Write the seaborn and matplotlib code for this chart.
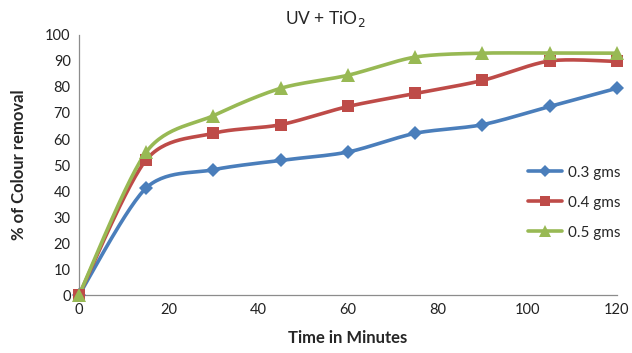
import matplotlib
import matplotlib.pyplot as plt
import numpy as np
import pandas as pd
import seaborn as sns
from matplotlib.lines import Line2D

matplotlib.use("Agg")

minutes = [0, 15, 30, 45, 60, 75, 90, 105, 120]
dose_03 = [0, 41.2, 48.2, 51.8, 55.0, 62.2, 65.5, 72.5, 79.5]
dose_04 = [0, 52.0, 62.2, 65.5, 72.5, 77.5, 82.5, 90.0, 89.8]
dose_05 = [0, 55.0, 69.0, 79.5, 84.5, 91.5, 93.0, 93.0, 93.0]
series_names = ["0.3 gms", "0.4 gms", "0.5 gms"]

colors = ["#4A7EBB", "#BE4B48", "#98B954"]
markers = ["D", "s", "^"]
marker_sizes = [7, 9, 10]


def smooth_curve(x, y, steps=30):
    # Excel-style smoothed line (Catmull-Rom through the data points)
    x = np.asarray(x, dtype=float)
    y = np.asarray(y, dtype=float)
    px = np.concatenate([[x[0]], x, [x[-1]]])
    py = np.concatenate([[y[0]], y, [y[-1]]])
    xs, ys = [], []
    for i in range(1, len(px) - 2):
        t = np.linspace(0, 1, steps, endpoint=False)
        for arr, out in ((px, xs), (py, ys)):
            p0, p1, p2, p3 = arr[i - 1], arr[i], arr[i + 1], arr[i + 2]
            m1 = (p2 - p0) / 2 * 0.85
            m2 = (p3 - p1) / 2 * 0.85
            h00 = 2 * t**3 - 3 * t**2 + 1
            h10 = t**3 - 2 * t**2 + t
            h01 = -2 * t**3 + 3 * t**2
            h11 = t**3 - t**2
            out.extend(h00 * p1 + h10 * m1 + h01 * p2 + h11 * m2)
    xs.append(x[-1])
    ys.append(y[-1])
    return np.array(xs), np.array(ys)


sns.set_theme(style="white")
plt.rcParams["font.family"] = ["Lato", "DejaVu Sans"]

points = pd.DataFrame(
    {
        "minutes": minutes * 3,
        "removal": dose_03 + dose_04 + dose_05,
        "dose": [n for n in series_names for _ in minutes],
    }
)
curves = []
for name, group in points.groupby("dose", sort=False):
    sx, sy = smooth_curve(group["minutes"], group["removal"])
    curves.append(pd.DataFrame({"minutes": sx, "removal": sy, "dose": name}))
curves = pd.concat(curves, ignore_index=True)

fig = plt.figure(figsize=(6.32, 3.53), dpi=100)
ax = fig.add_axes([0.125, 0.164, 0.851, 0.737])

palette = dict(zip(series_names, colors))
sns.lineplot(data=curves, x="minutes", y="removal", hue="dose", palette=palette,
             linewidth=2.6, sort=False, estimator=None, legend=False, ax=ax)
for name, color, marker, size in zip(series_names, colors, markers, marker_sizes):
    sub = points[points["dose"] == name]
    ax.plot(sub["minutes"], sub["removal"], linestyle="none", marker=marker,
            markersize=size, color=color, markeredgewidth=0, zorder=3)

ax.set_xlim(0, 120)
ax.set_ylim(0, 100)
ax.set_xticks(range(0, 121, 20))
ax.set_yticks(range(0, 101, 10))
ax.tick_params(axis="both", labelsize=10.5, colors="#222222", length=0, pad=6)
for side in ["top", "right"]:
    ax.spines[side].set_visible(False)
for side in ["left", "bottom"]:
    ax.spines[side].set_color("#8c8c8c")
    ax.spines[side].set_linewidth(0.9)
for artist in ax.lines:
    artist.set_clip_on(False)

ax.set_xlabel("Time in Minutes", fontsize=12, fontweight="bold", labelpad=9)
ax.set_ylabel("% of Colour removal", fontsize=12, fontweight="bold", labelpad=13)
fig.text(0.515, 0.945, "UV + TiO$_2$", ha="center", va="center", fontsize=12.5)

handles = [
    Line2D([0], [0], color=c, marker=m, markersize=s * 0.85, markeredgewidth=0, linewidth=2.6)
    for c, m, s in zip(colors, markers, marker_sizes)
]
ax.legend(handles, series_names, loc="center left", bbox_to_anchor=(0.81, 0.355),
          frameon=False, fontsize=11, handlelength=2.2, labelspacing=1.05, handletextpad=0.4)

fig.savefig("out.png", dpi=100)
plt.close(fig)
